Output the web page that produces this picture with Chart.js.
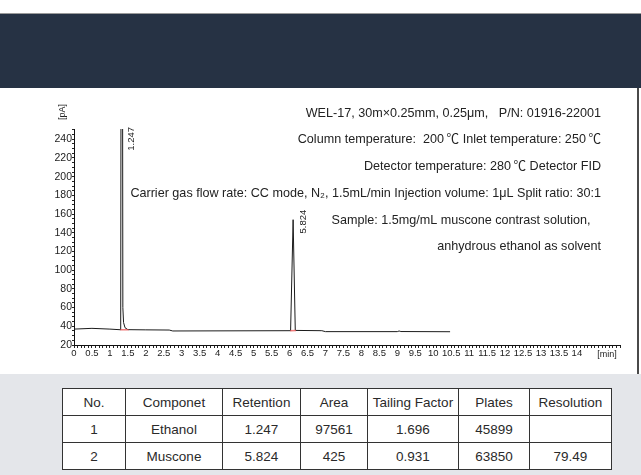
<!DOCTYPE html>
<html>
<head>
<meta charset="utf-8">
<script src="https://cdn.jsdelivr.net/npm/chart.js@4.4.0/dist/chart.umd.min.js"></script>
<style>
  html, body { margin: 0; padding: 0; background: #fff; }
  body { width: 641px; height: 475px; position: relative; overflow: hidden; font-family: "Liberation Sans", Arial, sans-serif; }
  .topline { position: absolute; left: 0; top: 13px; width: 641px; height: 1px; background: #9a9a9a; }
  .band { position: absolute; left: 0; top: 14px; width: 641px; height: 74px; background: #263244; }
  .plot { position: absolute; left: 0; top: 88px; width: 637px; height: 286px; border-right: 2px solid #4a4a4a; background: #fff; }
  .bottom { position: absolute; left: 0; top: 374px; width: 641px; height: 101px; background: #e4e6ea; }
  table { position: absolute; left: 62px; top: 388px; width: 549px; table-layout: fixed; border-collapse: collapse; background: #fff; font-size: 13.5px; color: #2a2a2a; }
  td { border: 1px solid #333; height: 26px; padding: 0; text-align: center; white-space: nowrap; }
</style>
</head>
<body>
<div class="topline"></div>
<div class="band"></div>
<div class="plot"><canvas id="chromChart" width="637" height="286"></canvas></div>
<div class="bottom"></div>
<table id="resultTable">
  <colgroup>
    <col style="width:63px"><col style="width:97px"><col style="width:78px"><col style="width:67px">
    <col style="width:91px"><col style="width:71px"><col style="width:82px">
  </colgroup>
  <tbody></tbody>
</table>
<script>
// chromatogram trace (time in min, signal in pA)
const traceTime   = [0, 0.5, 1.0, 1.30, 1.33, 1.36, 1.38, 1.42, 1.5, 2.0, 2.65, 2.75, 6.03, 6.10, 6.16, 6.9, 7.0, 9.0, 9.05, 9.1, 10.47];
const traceSignal = [37, 37.8, 37, 36.3, 1000, 60, 44, 38.5, 36.4, 36.2, 36, 35, 35.3, 154, 35.6, 35.3, 34.3, 34.3, 35, 34.4, 34.2];

// integration baseline marks (red)
const markTime   = [1.29, 1.52, 1.53, 6.02, 6.18];
const markSignal = [36.3, 36.3, null, 35.3, 35.4];

// peak retention labels
const peakTime  = [1.33, 6.10];
const peakLabel = ['1.247', '5.824'];

const xLabelMax = 14;
const yLabelStep = 20;

const infoLines = [
    'WEL-17, 30m\u00d70.25mm, 0.25\u03bcm,   P/N: 01916-22001',
    'Column temperature:  200\u2009\u2103 Inlet temperature: 250\u2009\u2103',
    'Detector temperature: 280\u2009\u2103 Detector FID',
    'Carrier gas flow rate: CC mode, N\u2082, 1.5mL/min Injection volume: 1\u03bcL Split ratio: 30:1',
    'Sample: 1.5mg/mL muscone contrast solution,   ',
    'anhydrous ethanol as solvent'
];

const tableHead = ['No.', 'Componet', 'Retention', 'Area', 'Tailing Factor', 'Plates', 'Resolution'];
const tableRows = [
    ['1', 'Ethanol', '1.247', '97561', '1.696', '45899', ''],
    ['2', 'Muscone', '5.824', '425', '0.931', '63850', '79.49']
];

// table
const tbody = document.querySelector('#resultTable tbody');
[tableHead, ...tableRows].forEach(row => {
    const tr = document.createElement('tr');
    row.forEach(cell => {
        const td = document.createElement('td');
        td.textContent = cell;
        tr.appendChild(td);
    });
    tbody.appendChild(tr);
});

const FONT = '"Liberation Sans", "Noto Sans CJK SC", Arial, sans-serif';

// texts drawn over the plot
const annotations = {
    id: 'annotations',
    afterDraw(chart) {
        const { ctx, chartArea, scales: { x, y } } = chart;
        ctx.save();
        ctx.fillStyle = '#222';

        // method info
        ctx.font = '12.6px ' + FONT;
        ctx.textAlign = 'right';
        ctx.textBaseline = 'middle';
        infoLines.forEach((t, i) => ctx.fillText(t, 601, 25.3 + i * 26.7));

        // peak labels
        ctx.font = '9.5px ' + FONT;
        peakTime.forEach((t, i) => {
            const idx = traceTime.indexOf(t);
            const px = x.getPixelForValue(t);
            const apex = y.getPixelForValue(traceSignal[idx]);
            const w = ctx.measureText(peakLabel[i]).width;
            const top = Math.max(chartArea.top - 2, apex - 10);
            ctx.save();
            ctx.translate(px + 10, top + w);
            ctx.rotate(-Math.PI / 2);
            ctx.textAlign = 'left';
            ctx.textBaseline = 'middle';
            ctx.fillText(peakLabel[i], 0, 0);
            ctx.restore();
        });

        // axis units
        ctx.font = '9px ' + FONT;
        ctx.textAlign = 'center';
        ctx.save();
        ctx.translate(63, 24);
        ctx.rotate(-Math.PI / 2);
        ctx.fillText('[pA]', 0, 0);
        ctx.restore();
        ctx.fillText('[min]', 607, 267);
        ctx.restore();
    }
};

new Chart(document.getElementById('chromChart'), {
    type: 'line',
    data: {
        datasets: [{
            data: markTime.map((t, i) => ({ x: t, y: markSignal[i] })),
            borderColor: 'rgba(235, 80, 80, 0.75)',
            borderWidth: 1.5,
            pointRadius: 0,
            spanGaps: false
        }, {
            data: traceTime.map((t, i) => ({ x: t, y: traceSignal[i] })),
            borderColor: '#1b1b1b',
            borderWidth: 1,
            pointRadius: 0,
            tension: 0
        }]
    },
    options: {
        responsive: false,
        animation: false,
        layout: { padding: { top: 41, right: 17, left: 0, bottom: 0 } },
        plugins: { legend: { display: false }, tooltip: { enabled: false } },
        scales: {
            x: {
                type: 'linear',
                min: 0,
                max: 15.2,
                bounds: 'data',
                afterFit: s => { s.height = 29; },
                border: { color: '#111', width: 1 },
                grid: { drawOnChartArea: false, tickLength: 3, tickColor: '#222' },
                ticks: {
                    stepSize: 0.1,
                    autoSkip: false,
                    maxRotation: 0,
                    minRotation: 0,
                    padding: 0,
                    color: '#222',
                    font: { family: FONT, size: 9.5 },
                    callback: v => {
                        const h = Math.round(v * 2);
                        if (Math.abs(v * 2 - h) > 1e-6 || v > xLabelMax + 1e-6) return '';
                        return String(h / 2);
                    }
                }
            },
            y: {
                min: 20,
                max: 251,
                bounds: 'data',
                afterFit: s => { s.width = 74; },
                border: { color: '#111', width: 1 },
                grid: { drawOnChartArea: false, tickLength: 2, tickColor: '#222' },
                ticks: {
                    stepSize: 5,
                    includeBounds: false,
                    autoSkip: false,
                    padding: 0,
                    color: '#222',
                    font: { family: FONT, size: 10.5 },
                    callback: v => (Math.round(v) % yLabelStep === 0 ? v : '')
                }
            }
        }
    },
    plugins: [annotations]
});
</script>
</body>
</html>
